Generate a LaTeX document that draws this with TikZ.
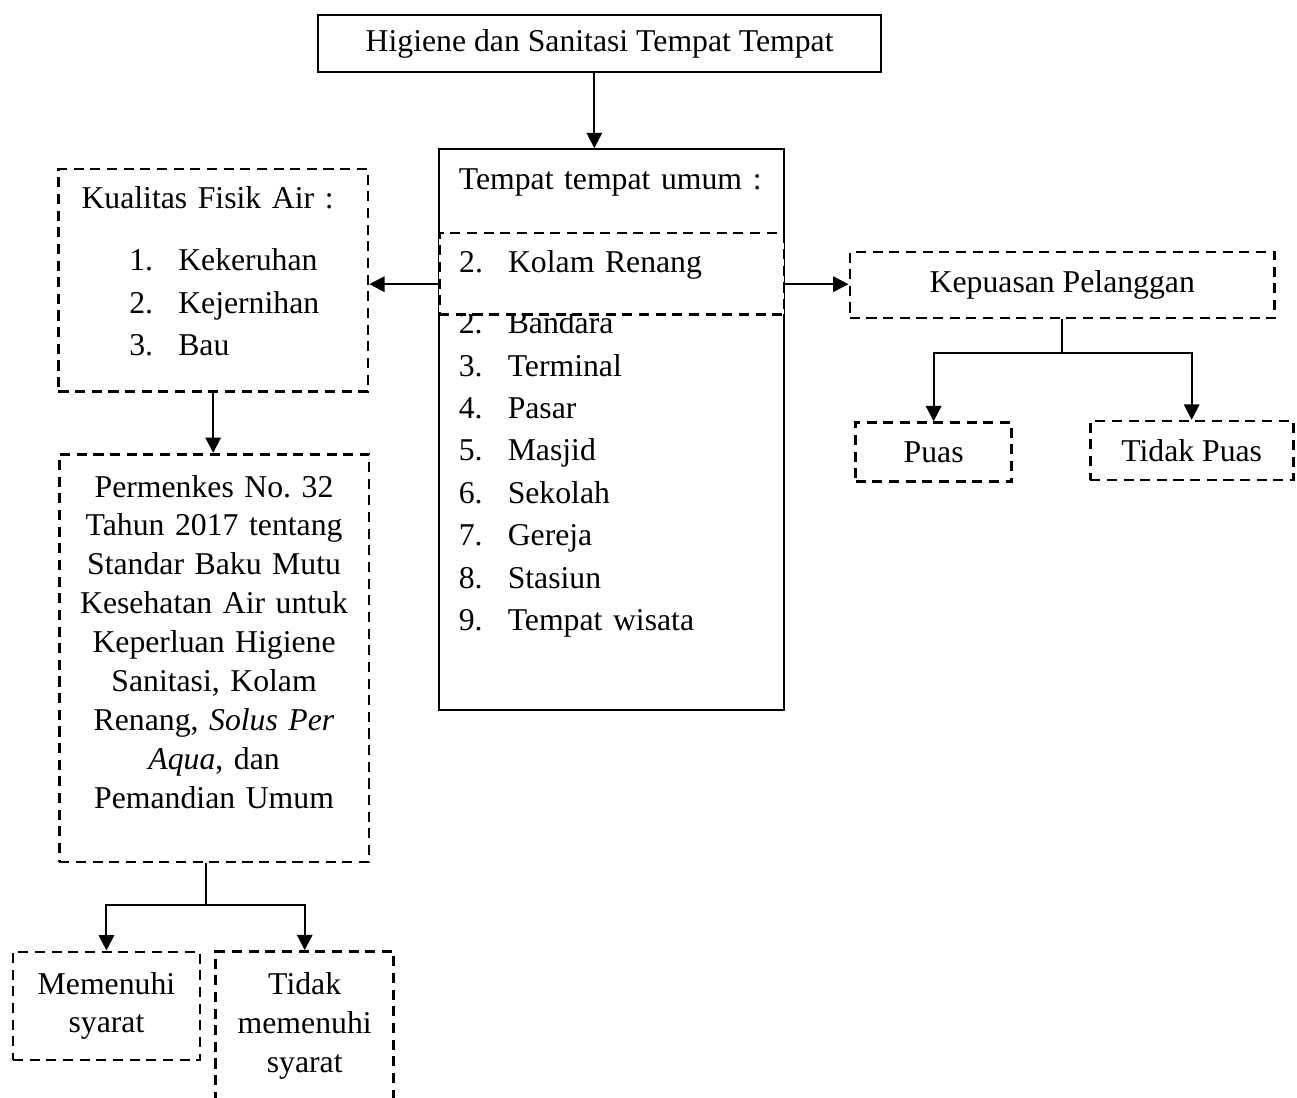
\documentclass[tikz,border=0pt]{standalone}
\usepackage{fontspec}
\setmainfont{Liberation Serif}
\usetikzlibrary{arrows.meta, positioning}

\frenchspacing
\newcommand{\numitem}[2]{\makebox[18.5pt][l]{#1}#2}

\begin{document}
\begin{tikzpicture}[
		% Define styles
		solid box/.style={
			rectangle,
			draw,
			line width=0.75pt,
			font=\fontsize{12pt}{16pt}\selectfont
		},
		dash box/.style={
			rectangle,
			draw,
			line width=1pt,
			dash pattern=on 3.8pt off 2.5pt,
			fill=white,
			align=center,
			font=\fontsize{12pt}{14.7pt}\selectfont
		},
		% Define arrow style
		arrow/.style={-{Triangle[length=5.8pt,width=5.8pt]}, line width=0.75pt},
		link/.style={line width=0.75pt}
		]
		
		\useasboundingbox (0,0) rectangle (17.24,-14.59);
		
		% ----- Title Node -----
		\node[solid box, minimum width=7.48cm, minimum height=0.76cm] (title) 
		at (7.97,-0.58) {Higiene dan Sanitasi Tempat Tempat};
		
		% ----- Tempat tempat umum -----
		\node[solid box, anchor=north west, align=left, text width=4.05cm,
			inner xsep=0.266cm, inner ysep=0.25cm, text height=0.29cm, text depth=6.66cm,
			font=\fontsize{12pt}{16.03pt}\selectfont] (umum) at (5.82,-1.97) {
			Tempat tempat umum :\\[38.4pt]
			\numitem{2.}{Bandara}\\
			\numitem{3.}{Terminal}\\
			\numitem{4.}{Pasar}\\
			\numitem{5.}{Masjid}\\
			\numitem{6.}{Sekolah}\\
			\numitem{7.}{Gereja}\\
			\numitem{8.}{Stasiun}\\
			\numitem{9.}{Tempat wisata}
		};
		
		\node[dash box, anchor=north west, align=left, text width=4.05cm,
			inner xsep=0.266cm, inner ysep=0.24cm, text height=0.29cm, text depth=0.31cm]
		(kolam) at (5.82,-3.08) {\numitem{2.}{Kolam Renang}};
		
		% ----- Left branch -----
		\node[dash box, anchor=north west, align=left, text width=3.5cm,
			inner xsep=0.306cm, inner ysep=0.24cm, text height=0.29cm, text depth=2.19cm,
			font=\fontsize{12pt}{16pt}\selectfont] (kualitas) at (0.76,-2.23) {
			Kualitas Fisik Air :\\[7.4pt]
			\hspace*{18.1pt}\numitem{1.}{Kekeruhan}\\
			\hspace*{18.1pt}\numitem{2.}{Kejernihan}\\
			\hspace*{18.1pt}\numitem{3.}{Bau}
		};
		
		\node[dash box, anchor=north west, text width=3.85cm,
			inner xsep=0.133cm, inner ysep=0.28cm, text height=0.29cm, text depth=4.57cm]
		(permenkes) at (0.77,-6.02) {
			Permenkes No. 32\\
			Tahun 2017 tentang\\
			Standar Baku Mutu\\
			Kesehatan Air untuk\\
			Keperluan Higiene\\
			Sanitasi, Kolam\\
			Renang, \textit{Solus Per}\\
			\textit{Aqua}, dan\\
			Pemandian Umum
		};
		
		\node[dash box, minimum width=2.485cm, minimum height=1.435cm] (memenuhi) 
		at (1.415,-13.37) {Memenuhi\\ syarat};
		\node[dash box, anchor=north, text width=2.1cm,
			inner xsep=0.133cm, inner ysep=0.28cm, text height=0.29cm, text depth=1.41cm]
		(tidakmemenuhi) at (4.05,-12.63) {Tidak\\ memenuhi\\ syarat};
		
		% ----- Right branch -----
		\node[dash box, minimum width=5.648cm, minimum height=0.877cm] (kepuasan) 
		at (14.12,-3.79) {Kepuasan Pelanggan};
		\node[dash box, minimum width=2.073cm, minimum height=0.784cm] (puas) 
		at (12.41,-6.01) {Puas};
		\node[dash box, minimum width=2.698cm, minimum height=0.784cm] (tidakpuas) 
		at (15.84,-5.99) {Tidak Puas};
		
		% ----- Arrows to connect the nodes -----
		\draw[arrow] ([xshift=-0.07cm]title.south) -- ([xshift=-0.07cm]title.south |- umum.north);
		
		\draw[arrow] ([yshift=-0.14cm]kolam.west) -- ([yshift=-0.14cm]kolam.west -| kualitas.east);
		\draw[arrow] ([yshift=-0.14cm]kolam.east) -- ([yshift=-0.14cm]kolam.east -| kepuasan.west);
		
		\draw[arrow] (kualitas.south) -- (kualitas.south |- permenkes.north);
		
		\draw[link] ([xshift=-0.11cm]permenkes.south) -- ++(0,-0.56) coordinate (pm-split);
		\draw[arrow] (pm-split) -| (memenuhi.north);
		\draw[arrow] (pm-split) -| (tidakmemenuhi.north);
		
		\draw[link] (kepuasan.south) -- ++(0,-0.45) coordinate (kp-split);
		\draw[arrow] (kp-split) -| (puas.north);
		\draw[arrow] (kp-split) -| (tidakpuas.north);
		
	\end{tikzpicture}
\end{document}
